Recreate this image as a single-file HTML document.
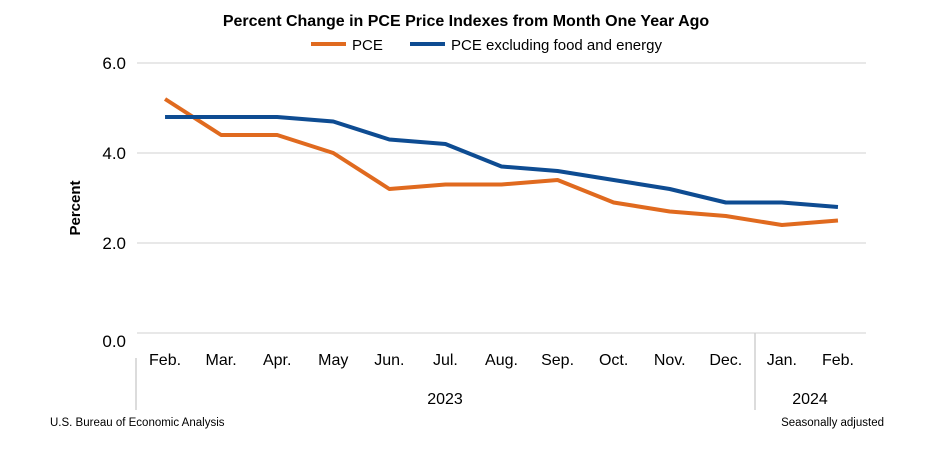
<!DOCTYPE html>
<html><head><meta charset="utf-8"><style>
body{margin:0;background:#fff;font-family:"Liberation Sans",sans-serif;}
svg{display:block}
</style></head><body>
<svg id="c" width="932" height="454">
<text x="466" y="26" text-anchor="middle" font-size="16" font-weight="bold">Percent Change in PCE Price Indexes from Month One Year Ago</text>
<g>
<line x1="311" y1="44" x2="346" y2="44" stroke="#e06a1f" stroke-width="4"/>
<text x="352" y="50" font-size="15">PCE</text>
<line x1="410" y1="44" x2="445" y2="44" stroke="#0e4c92" stroke-width="4"/>
<text x="451" y="50" font-size="15">PCE excluding food and energy</text>
</g>
<text transform="translate(80,208) rotate(-90)" text-anchor="middle" font-size="15" font-weight="bold">Percent</text>
<g id="grid"></g><g id="xl"></g><g id="lines"></g>
<line x1="136" y1="358" x2="136" y2="410" stroke="#d0d0d0" stroke-width="1.5"/>
<line x1="755" y1="333" x2="755" y2="410" stroke="#d0d0d0" stroke-width="1.5"/>
<text x="445" y="404" text-anchor="middle" font-size="16">2023</text>
<text x="810" y="404" text-anchor="middle" font-size="16">2024</text>
<text x="50" y="426" font-size="11.5">U.S. Bureau of Economic Analysis</text>
<text x="884" y="426" text-anchor="end" font-size="11.5">Seasonally adjusted</text>
</svg>
<script>
const categories=["Feb.","Mar.","Apr.","May","Jun.","Jul.","Aug.","Sep.","Oct.","Nov.","Dec.","Jan.","Feb."];
const pce=[5.2,4.4,4.4,4.0,3.2,3.3,3.3,3.4,2.9,2.7,2.6,2.4,2.5];
const core=[4.8,4.8,4.8,4.7,4.3,4.2,3.7,3.6,3.4,3.2,2.9,2.9,2.8];
const yTicks=[0,2,4,6];
const yTickLabels=["0.0","2.0","4.0","6.0"];
const NS="http://www.w3.org/2000/svg";
const x0=137,x1=866,bw=(x1-x0)/categories.length;
const xs=i=>x0+bw*(i+0.5);
const ys=v=>333-v*45;
function mk(t,a,p){const e=document.createElementNS(NS,t);for(const k in a)e.setAttribute(k,a[k]);p.appendChild(e);return e;}
const g=document.getElementById('grid');
yTicks.forEach((v,i)=>{
 const l=mk('line',{x1:x0,x2:x1,y1:ys(v),y2:ys(v),stroke:'#d9d9d9','stroke-width':1.3},g);
 
 
 const t=mk('text',{x:126,y:ys(v)+6+(v===0?8:0),'text-anchor':'end','font-size':17},g);
 t.textContent=yTickLabels[i];
 
 
});
const xl=document.getElementById('xl');
categories.forEach((c,i)=>{
 const t=mk('text',{x:xs(i),y:365,'text-anchor':'middle','font-size':16},xl);
 t.textContent=c;
 
 
});
const L=document.getElementById('lines');
[[pce,'#e06a1f','pce-line'],[core,'#0e4c92','core-pce-line']].forEach(([d,col,n])=>{
 const p=mk('polyline',{points:d.map((v,i)=>xs(i)+','+ys(v)).join(' '),fill:'none',stroke:col,'stroke-width':4,'stroke-linejoin':'round'},L);
 
 
});
</script>
</body></html>
